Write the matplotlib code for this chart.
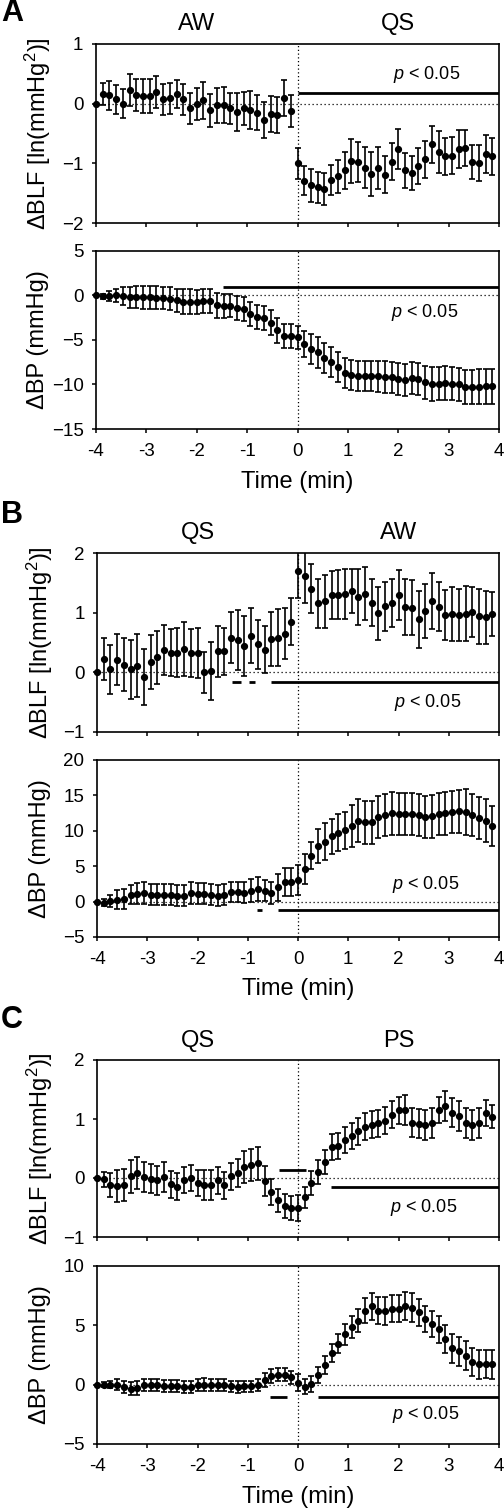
import numpy as np
import matplotlib
matplotlib.use("Agg")
import matplotlib.pyplot as plt

plt.rcParams["font.family"] = ["Liberation Sans", "DejaVu Sans"]
plt.rcParams["mathtext.fontset"] = "custom"
plt.rcParams["mathtext.rm"] = "Liberation Sans"
plt.rcParams["mathtext.it"] = "Liberation Sans:italic"

# time axis: one point every 8 s from -4 min
time = -4 + np.arange(60) * 8 / 60.0

# ---- panel A : AW -> QS
a_blf = [0.0, 0.16, 0.14, 0.07, 0.0, 0.23, 0.14, 0.13, 0.13, 0.19,
         0.07, 0.09, 0.16, 0.07, -0.08, 0.0, 0.06, -0.11, -0.03, -0.02,
         -0.08, -0.14, -0.08, -0.10, -0.15, -0.27, -0.17, -0.19, 0.09, -0.12,
         -1.0, -1.29, -1.37, -1.40, -1.43, -1.28, -1.22, -1.12, -0.96, -0.98,
         -1.07, -1.18, -1.08, -1.19, -0.97, -0.76, -1.12, -1.16, -1.04, -0.93,
         -0.68, -0.81, -0.88, -0.87, -0.76, -0.74, -0.98, -0.99, -0.84, -0.88]
a_blf_err = [0.0, 0.19, 0.24, 0.24, 0.24, 0.27, 0.27, 0.28, 0.29, 0.27,
             0.26, 0.26, 0.24, 0.26, 0.26, 0.27, 0.31, 0.28, 0.30, 0.30,
             0.26, 0.32, 0.28, 0.32, 0.29, 0.30, 0.30, 0.30, 0.30, 0.27,
             0.26, 0.24, 0.27, 0.26, 0.27, 0.25, 0.27, 0.31, 0.37, 0.34,
             0.35, 0.37, 0.35, 0.31, 0.31, 0.33, 0.29, 0.29, 0.30, 0.31,
             0.31, 0.35, 0.31, 0.31, 0.32, 0.30, 0.28, 0.30, 0.32, 0.31]
a_bp = [0.0, -0.1, -0.1, 0.0, -0.05, -0.2, -0.2, -0.2, -0.2, -0.25,
        -0.3, -0.35, -0.55, -0.7, -0.7, -0.7, -0.6, -0.65, -1.1, -1.15,
        -1.15, -1.4, -1.55, -2.05, -2.45, -2.55, -3.05, -3.9, -4.55, -4.55,
        -4.7, -5.45, -6.0, -6.4, -7.0, -7.5, -8.0, -8.7, -8.95, -9.0,
        -9.05, -9.05, -9.1, -9.15, -9.2, -9.4, -9.45, -9.3, -9.35, -9.75,
        -9.95, -9.9, -9.85, -9.9, -10.0, -10.3, -10.3, -10.25, -10.2, -10.2]
a_bp_err = [0.0, 0.28, 0.56, 0.7, 1.0, 1.16, 1.25, 1.27, 1.3, 1.27,
            1.27, 1.27, 1.3, 1.38, 1.38, 1.35, 1.37, 1.35, 1.4, 1.35,
            1.3, 1.3, 1.35, 1.35, 1.35, 1.35, 1.4, 1.4, 1.35, 1.3,
            1.3, 1.5, 1.72, 1.7, 1.7, 1.7, 1.68, 1.65, 1.65, 1.68,
            1.68, 1.7, 1.72, 1.75, 1.75, 1.78, 1.8, 1.8, 1.82, 1.85,
            1.87, 1.87, 1.88, 1.88, 1.9, 1.9, 1.92, 1.95, 1.95, 1.97]

# ---- panel B : QS -> AW
b_blf = [0.0, 0.22, 0.05, 0.21, 0.13, 0.05, 0.11, -0.08, 0.17, 0.25,
         0.38, 0.33, 0.33, 0.39, 0.33, 0.33, 0.0, 0.02, 0.35, 0.35,
         0.58, 0.54, 0.44, 0.61, 0.47, 0.38, 0.56, 0.58, 0.65, 0.85,
         1.70, 1.62, 1.40, 1.16, 1.19, 1.30, 1.30, 1.32, 1.36, 1.26,
         1.32, 1.17, 0.99, 1.11, 1.16, 1.30, 1.10, 1.08, 0.89, 1.03,
         1.20, 1.10, 0.96, 0.98, 0.96, 0.98, 1.01, 0.94, 0.92, 0.98]
b_blf_err = [0.0, 0.35, 0.41, 0.43, 0.44, 0.50, 0.53, 0.47, 0.45, 0.44,
             0.42, 0.39, 0.41, 0.45, 0.40, 0.42, 0.34, 0.49, 0.43, 0.40,
             0.43, 0.50, 0.50, 0.46, 0.41, 0.39, 0.45, 0.48, 0.43, 0.40,
             0.45, 0.45, 0.41, 0.41, 0.44, 0.40, 0.41, 0.42, 0.37, 0.47,
             0.45, 0.39, 0.44, 0.41, 0.40, 0.42, 0.47, 0.46, 0.48, 0.45,
             0.47, 0.41, 0.42, 0.45, 0.43, 0.46, 0.42, 0.46, 0.44, 0.37]
b_bp = [0.0, -0.15, 0.15, 0.25, 0.4, 1.0, 1.1, 1.2, 1.0, 1.0,
        1.0, 1.0, 0.85, 0.85, 1.2, 1.1, 1.1, 1.0, 0.85, 1.0,
        1.35, 1.35, 1.25, 1.55, 1.8, 1.55, 1.2, 2.0, 2.75, 2.75,
        3.1, 4.6, 6.5, 7.8, 8.45, 9.2, 9.75, 10.05, 10.65, 11.4,
        11.2, 11.2, 11.95, 12.2, 12.45, 12.35, 12.35, 12.35, 12.2, 11.95,
        12.05, 12.4, 12.45, 12.65, 12.75, 12.65, 12.2, 11.85, 11.4, 10.65]
b_bp_err = [0.0, 0.5, 0.85, 1.35, 1.4, 1.4, 1.5, 1.55, 1.5, 1.5,
            1.5, 1.5, 1.5, 1.5, 1.5, 1.5, 1.5, 1.5, 1.5, 1.45,
            1.4, 1.45, 1.5, 1.65, 1.65, 1.5, 1.5, 1.9, 1.95, 2.0,
            2.1, 2.1, 1.85, 2.4, 2.6, 2.5, 2.6, 2.65, 2.95, 3.05,
            3.0, 3.0, 2.9, 2.95, 3.1, 3.0, 3.0, 3.0, 3.0, 3.0,
            3.0, 3.0, 3.0, 3.0, 3.05, 3.2, 2.95, 2.95, 3.05, 2.85]

# ---- panel C : QS -> PS
c_blf = [0.0, -0.02, -0.12, -0.13, -0.12, 0.03, 0.09, 0.02, -0.01, -0.04,
         0.02, -0.11, -0.15, -0.04, 0.0, -0.08, -0.12, -0.12, -0.04, -0.12,
         0.03, 0.08, 0.19, 0.22, 0.25, -0.05, -0.23, -0.38, -0.47, -0.51,
         -0.51, -0.33, -0.08, 0.10, 0.27, 0.52, 0.54, 0.64, 0.71, 0.79,
         0.87, 0.90, 0.93, 0.97, 1.07, 1.15, 1.15, 0.94, 0.92, 0.90,
         0.93, 1.16, 1.22, 1.11, 1.05, 0.93, 0.90, 0.93, 1.10, 1.04]
c_blf_err = [0.0, 0.13, 0.20, 0.27, 0.27, 0.28, 0.27, 0.25, 0.25, 0.25,
             0.25, 0.23, 0.23, 0.22, 0.22, 0.22, 0.25, 0.25, 0.23, 0.23,
             0.23, 0.24, 0.27, 0.27, 0.28, 0.25, 0.22, 0.20, 0.20, 0.20,
             0.22, 0.18, 0.20, 0.20, 0.20, 0.22, 0.22, 0.22, 0.22, 0.23,
             0.23, 0.23, 0.23, 0.23, 0.23, 0.23, 0.25, 0.25, 0.25, 0.25,
             0.25, 0.22, 0.25, 0.25, 0.25, 0.25, 0.25, 0.25, 0.22, 0.20]
c_bp = [0.0, 0.0, 0.0, 0.0, -0.2, -0.35, -0.25, 0.0, -0.05, -0.05,
        -0.1, -0.1, -0.1, -0.2, -0.2, -0.03, 0.0, -0.05, -0.05, -0.05,
        -0.15, -0.2, -0.15, -0.15, 0.0, 0.42, 0.73, 0.85, 0.85, 0.62,
        0.17, -0.17, 0.05, 0.8, 1.65, 2.65, 3.45, 4.25, 4.85, 5.4,
        6.25, 6.6, 6.25, 6.2, 6.4, 6.4, 6.65, 6.5, 6.1, 5.55,
        5.15, 4.65, 3.85, 3.05, 2.8, 2.45, 1.9, 1.7, 1.75, 1.7]
c_bp_err = [0.0, 0.2, 0.32, 0.45, 0.48, 0.56, 0.6, 0.5, 0.5, 0.5,
            0.5, 0.5, 0.5, 0.5, 0.5, 0.5, 0.55, 0.5, 0.5, 0.5,
            0.5, 0.5, 0.5, 0.5, 0.5, 0.6, 0.63, 0.56, 0.56, 0.56,
            0.7, 0.63, 0.65, 0.67, 0.73, 0.76, 0.8, 0.88, 0.95, 1.0,
            1.07, 1.12, 1.1, 1.15, 1.15, 1.15, 1.2, 1.2, 1.15, 1.1,
            1.1, 1.1, 1.15, 1.2, 1.2, 1.2, 1.2, 1.2, 1.2, 1.2]

# significance bars: (y, [(x0, x1), ...])
a_blf_sig = [(0.18, [(0.0, 4.0)])]
a_bp_sig = [(1.0, [(-1.47, 4.0)])]
b_blf_sig = [(-0.16, [(-1.32, -1.13), (-0.97, -0.85), (-0.53, 4.0)])]
b_bp_sig = [(-1.2, [(-0.81, -0.71), (-0.40, 4.0)])]
c_blf_sig = [(0.14, [(-0.38, 0.16)]), (-0.16, [(0.66, 4.0)])]
c_bp_sig = [(-1.0, [(-0.55, -0.22), (0.39, 4.0)])]

blf_label = "\u0394BLF [ln(mmHg$^2$)]"
bp_label = "\u0394BP (mmHg)"

W, H = 504.0, 1511.0
fig = plt.figure(figsize=(W / 100, H / 100), dpi=100)


def px_axes(x0, x1, y0, y1):
    return fig.add_axes([x0 / W, 1 - y1 / H, (x1 - x0) / W, (y1 - y0) / H])


def draw(ax, y, err, ylim, yticks, sig, ptxt, ylabel, xlabels):
    ax.axvline(0, color="black", lw=0.9, ls=(0, (1, 2)), zorder=1)
    ax.axhline(0, color="black", lw=0.9, ls=(0, (1, 2.2)), zorder=1)
    ax.errorbar(time, y, yerr=err, fmt="none", ecolor="black", elinewidth=1.2,
                capsize=1.9, capthick=1.2, zorder=2)
    ax.plot(time, y, "o", color="black", ms=4.2, clip_on=False, zorder=3)
    for yy, segs in sig:
        for x0, x1 in segs:
            ax.plot([x0, x1], [yy, yy], color="black", lw=2.0,
                    solid_capstyle="butt", zorder=2)
    ax.text(ptxt[0], ptxt[1], "$p$ < 0.05", ha="center", va="center",
            fontsize=13)
    ax.set_xlim(-4, 4)
    ax.set_ylim(*ylim)
    ax.set_xticks(range(-4, 5))
    ax.set_yticks(yticks)
    if xlabels:
        ax.set_xticklabels([str(v) for v in range(-4, 5)])
        ax.text(0.5, -0.295, "Time (min)", transform=ax.transAxes,
                ha="center", va="center", fontsize=17)
    else:
        ax.set_xticklabels([])
    ax.tick_params(direction="out", length=3, width=1.1, labelsize=13.5)
    ax.tick_params(axis="x", pad=7)
    ax.tick_params(axis="y", pad=6)
    for s in ax.spines.values():
        s.set_linewidth(1.2)
    ax.text(-0.143, 0.5, ylabel, transform=ax.transAxes, rotation=90,
            ha="center", va="center", fontsize=17)


def header(ax, letter, left, right, y_letter):
    ax.text(-2, 1.11, left, transform=ax.get_xaxis_transform(),
            ha="center", va="center", fontsize=17)
    ax.text(2, 1.11, right, transform=ax.get_xaxis_transform(),
            ha="center", va="center", fontsize=17)
    fig.text(1 / W, 1 - y_letter / H, letter, fontsize=22, fontweight="bold",
             ha="left", va="center")


ax = px_axes(96, 499, 44, 223)
draw(ax, a_blf, a_blf_err, (-2, 1), [-2, -1, 0, 1], a_blf_sig, (2.57, 0.49),
     blf_label, False)
header(ax, "A", "AW", "QS", 13)
ax = px_axes(96, 499, 251, 429)
draw(ax, a_bp, a_bp_err, (-15, 5), [-15, -10, -5, 0, 5], a_bp_sig,
     (2.53, -1.9), bp_label, True)

ax = px_axes(97, 499, 553, 732)
draw(ax, b_blf, b_blf_err, (-1, 2), [-1, 0, 1, 2], b_blf_sig, (2.57, -0.5),
     blf_label, False)
header(ax, "B", "QS", "AW", 515)
ax = px_axes(97, 499, 760, 937)
draw(ax, b_bp, b_bp_err, (-5, 20), [-5, 0, 5, 10, 15, 20], b_bp_sig,
     (2.53, 2.4), bp_label, True)

ax = px_axes(97, 499, 1060, 1237)
draw(ax, c_blf, c_blf_err, (-1, 2), [-1, 0, 1, 2], c_blf_sig, (2.5, -0.5),
     blf_label, False)
header(ax, "C", "QS", "PS", 1020)
ax = px_axes(97, 499, 1266, 1444)
draw(ax, c_bp, c_bp_err, (-5, 10), [-5, 0, 5, 10], c_bp_sig, (2.53, -2.5),
     bp_label, True)

fig.savefig("out.png", dpi=100)
